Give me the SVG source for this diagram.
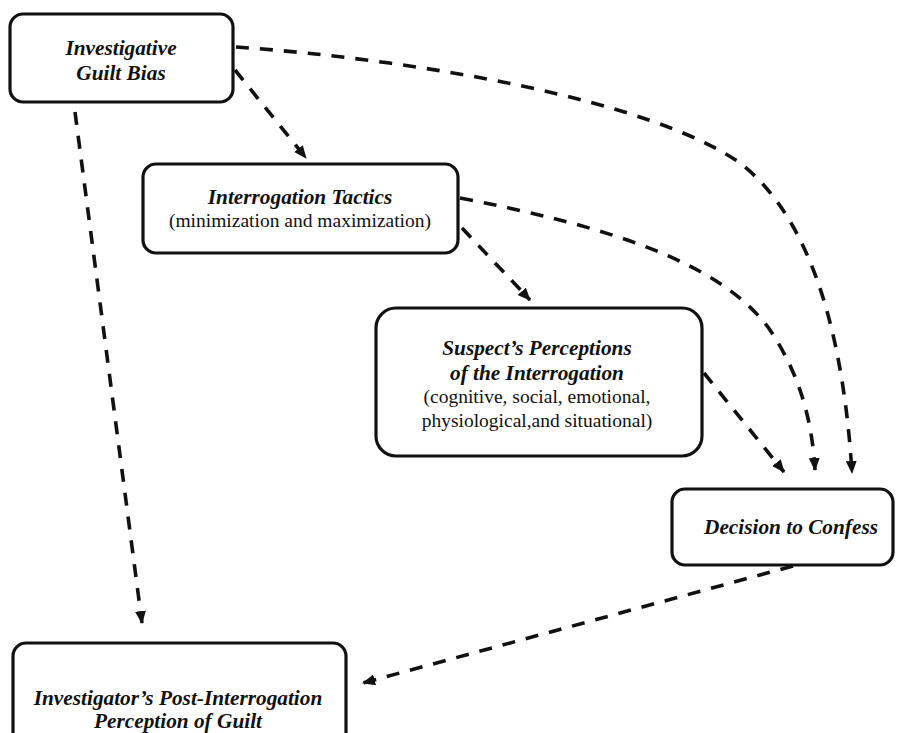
<svg xmlns="http://www.w3.org/2000/svg" width="898" height="733" viewBox="0 0 898 733">
<defs>
<marker id="ah" viewBox="0 0 13 11" refX="12" refY="5.5" markerWidth="13" markerHeight="11" markerUnits="userSpaceOnUse" orient="auto">
<path d="M0,0 L13,5.5 L0,11 z" fill="#111"/>
</marker>
<style>
.box{fill:#fff;stroke:#111;stroke-width:3.2}
text{font-family:'Liberation Serif','Times New Roman',serif;font-size:19.5px;fill:#111;text-anchor:middle}
.t{font-weight:bold;font-style:italic;font-size:21.3px}
.c{fill:none;stroke:#111;stroke-width:3.6;stroke-dasharray:13 11;marker-end:url(#ah)}
</style>
</defs>
<rect width="898" height="733" fill="#fff"/>
<g id="connectors">
<path class="c" d="M75,112 L142,623"/>
<path class="c" d="M235,70 L306,158"/>
<path class="c" d="M236,47 C420,60 650,100 740,163 C820,225 845,360 852,473"/>
<path class="c" d="M460,198 C600,225 720,260 770,330 C800,375 812,420 815,470"/>
<path class="c" d="M462,228 L530,300"/>
<path class="c" d="M704,373 L784,472"/>
<path class="c" d="M793,566 L363,683"/>
</g>
<g id="guilt-bias">
<rect class="box" x="10" y="14" width="223" height="88" rx="13"/>
<text class="t" x="121" y="55">Investigative</text>
<text class="t" x="121" y="80">Guilt Bias</text>
</g>
<g id="tactics">
<rect class="box" x="143" y="164" width="315" height="89" rx="13"/>
<text class="t" x="300" y="204">Interrogation Tactics</text>
<text x="300" y="227">(minimization and maximization)</text>
</g>
<g id="perceptions">
<rect class="box" x="376" y="308" width="326" height="148" rx="20"/>
<text class="t" x="537" y="355">Suspect’s Perceptions</text>
<text class="t" x="537" y="380">of the Interrogation</text>
<text x="537" y="403">(cognitive, social, emotional,</text>
<text x="537" y="427">physiological,and situational)</text>
</g>
<g id="confess">
<rect class="box" x="672" y="489" width="221" height="76" rx="13"/>
<text class="t" x="791" y="534">Decision to Confess</text>
</g>
<g id="post">
<rect class="box" x="13" y="643" width="333" height="110" rx="13"/>
<text class="t" x="178" y="705">Investigator’s Post-Interrogation</text>
<text class="t" x="178" y="728">Perception of Guilt</text>
</g>
</svg>
